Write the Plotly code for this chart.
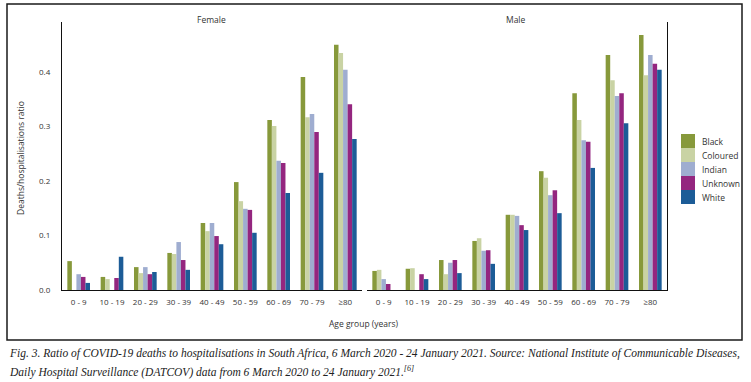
import plotly.graph_objects as go

age_groups = ["0 - 9", "10 - 19", "20 - 29", "30 - 39", "40 - 49", "50 - 59", "60 - 69", "70 - 79", "≥80"]
series_names = ["Black", "Coloured", "Indian", "Unknown", "White"]
series_colors = ["#87993b", "#c9d3a4", "#9fadd0", "#94267f", "#1c5c97"]

female_black    = [0.053, 0.024, 0.042, 0.068, 0.123, 0.198, 0.312, 0.391, 0.450]
female_coloured = [0.000, 0.020, 0.031, 0.066, 0.108, 0.163, 0.301, 0.317, 0.435]
female_indian   = [0.029, 0.000, 0.042, 0.088, 0.123, 0.149, 0.237, 0.323, 0.404]
female_unknown  = [0.024, 0.022, 0.029, 0.055, 0.099, 0.147, 0.233, 0.290, 0.341]
female_white    = [0.013, 0.061, 0.033, 0.037, 0.084, 0.105, 0.178, 0.215, 0.277]

male_black    = [0.035, 0.039, 0.055, 0.090, 0.138, 0.218, 0.361, 0.431, 0.468]
male_coloured = [0.037, 0.040, 0.029, 0.095, 0.138, 0.206, 0.312, 0.385, 0.394]
male_indian   = [0.020, 0.000, 0.050, 0.072, 0.136, 0.174, 0.275, 0.356, 0.431]
male_unknown  = [0.011, 0.029, 0.055, 0.073, 0.119, 0.183, 0.272, 0.361, 0.415]
male_white    = [0.000, 0.020, 0.031, 0.048, 0.110, 0.141, 0.224, 0.306, 0.404]

y_ticks = [0.0, 0.1, 0.2, 0.3, 0.4]

caption_line1 = ("Fig. 3. Ratio of COVID-19 deaths to hospitalisations in South Africa, 6 March 2020 - 24 January 2021. "
                 "Source: National Institute of Communicable Diseases,")
caption_line2 = "Daily Hospital Surveillance (DATCOV) data from 6 March 2020 to 24 January 2021.<sup>[6]</sup>"

female_series = [female_black, female_coloured, female_indian, female_unknown, female_white]
male_series = [male_black, male_coloured, male_indian, male_unknown, male_white]

# pixel geometry of the plot area
W, H = 751, 382
L, R, T, B = 62, 667, 22, 290
PW, PH = R - L, B - T

def px(x):
    return (x - L) / PW

def py(y):
    return (B - y) / PH

FONT = "Open Sans"
TXT = "#333333"

fig = go.Figure()
for name, color, vals in zip(series_names, series_colors, female_series):
    fig.add_trace(go.Bar(x=age_groups, y=vals, name=name, marker_color=color,
                         marker_line_width=0, xaxis="x", yaxis="y", showlegend=False))
for name, color, vals in zip(series_names, series_colors, male_series):
    fig.add_trace(go.Bar(x=age_groups, y=vals, name=name, marker_color=color,
                         marker_line_width=0, xaxis="x2", yaxis="y2", showlegend=False))

fig.update_layout(
    width=W, height=H,
    margin=dict(l=L, r=W - R, t=T, b=H - B, pad=0),
    paper_bgcolor="white", plot_bgcolor="white",
    barmode="group", bargap=0.32, bargroupgap=0,
    font=dict(family=FONT, size=8, color=TXT),
    xaxis=dict(domain=[0, (362 - L) / PW], anchor="y", showline=True, linecolor="#111",
               linewidth=1.3, ticks="", showgrid=False, tickfont=dict(size=8, color=TXT),
               ticklabelstandoff=4),
    xaxis2=dict(domain=[(367 - L) / PW, 1], anchor="y2", showline=True, linecolor="#111",
                linewidth=1.3, ticks="", showgrid=False, tickfont=dict(size=8, color=TXT),
                ticklabelstandoff=4),
    yaxis=dict(range=[0, (B - T) / 545.0], anchor="x", showline=True, linecolor="#111",
               linewidth=1.3, showgrid=False, zeroline=False, tickvals=y_ticks,
               tickformat=".1f", ticks="", ticklabelstandoff=9,
               tickfont=dict(size=8, color=TXT)),
    yaxis2=dict(range=[0, (B - T) / 545.0], anchor="x2", side="right", showline=True,
                linecolor="#111", linewidth=1.3, showgrid=False, zeroline=False,
                showticklabels=False, ticks=""),
)

def label(text, x, y, size=8.5, xanchor="center", yanchor="middle", **kw):
    d = dict(text=text, x=px(x), y=py(y), xref="paper", yref="paper", showarrow=False,
             xanchor=xanchor, yanchor=yanchor, font=dict(size=size, color=TXT))
    d.update(kw)
    return d

shapes = [dict(type="rect", xref="paper", yref="paper", x0=px(7), x1=px(742),
               y0=py(340), y1=py(4), line=dict(color="#1a1a1a", width=1.5),
               fillcolor="rgba(0,0,0,0)", layer="below")]
annotations = [
    label("Female", 211, 19),
    label("Male", 516, 19),
    label("Age group (years)", 364, 323),
    label("Deaths/hospitalisations ratio", 20, 158, textangle=-90),
    label("<i>" + caption_line1 + "</i>", 7, 353, xanchor="left",
          font=dict(family="Liberation Serif", size=11.5, color="#222")),
    label("<i>" + caption_line2 + "</i>", 7, 371, xanchor="left",
          font=dict(family="Liberation Serif", size=11.5, color="#222")),
]

# manual legend (contiguous colour swatches)
top = 134
for i, (name, color) in enumerate(zip(series_names, series_colors)):
    y0 = top + 14 * i
    shapes.append(dict(type="rect", xref="paper", yref="paper", x0=px(681), x1=px(695),
                       y0=py(y0 + 14), y1=py(y0), line=dict(width=0), fillcolor=color))
    annotations.append(label(name, 700, y0 + 7, xanchor="left"))

fig.update_layout(shapes=shapes, annotations=annotations)
fig.write_html("out.html", config={"displayModeBar": False},
               post_script="document.body.style.margin='0';")
